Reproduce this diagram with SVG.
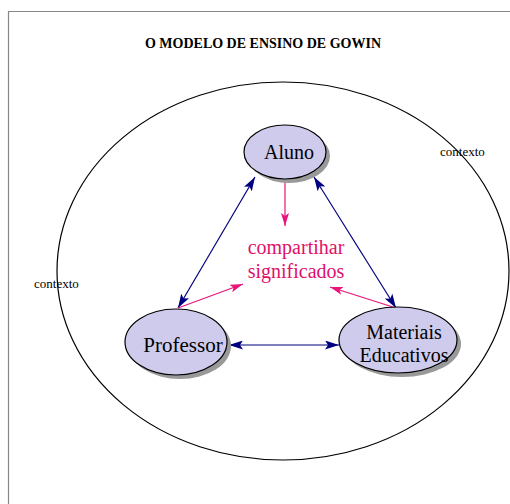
<svg xmlns="http://www.w3.org/2000/svg" width="510" height="504" viewBox="0 0 510 504">
<style>
text{font-family:"Liberation Serif",Tinos,"Times New Roman","Nimbus Roman","DejaVu Serif",serif}
.node{fill:#cfcbec;stroke:#000;stroke-width:1.2}
.shadow{fill:#999}
.lbl{font-size:20px;fill:#000;text-anchor:middle}
.pk{fill:#e0106a}
.ctx{font-size:13px;fill:#000}
.blue{stroke:#000080;stroke-width:1.2;fill:none}
.pink{stroke:#e8157a;stroke-width:1.2;fill:none}
</style>
<defs>
<marker id="ab" viewBox="0 0 14 9" refX="14" refY="4.5" markerWidth="14" markerHeight="9" markerUnits="userSpaceOnUse" orient="auto-start-reverse">
<path d="M0,0 L14,4.5 L0,9 L3,4.5 Z" fill="#000080"/>
</marker>
<marker id="ap" viewBox="0 0 13 8" refX="13" refY="4" markerWidth="13" markerHeight="8" markerUnits="userSpaceOnUse" orient="auto">
<path d="M0,0 L13,4 L0,8 L3,4 Z" fill="#e8157a"/>
</marker>
</defs>
<rect width="510" height="504" fill="#fff"/>
<path d="M8.5,504 V11.5 H510" fill="none" stroke="#888" stroke-width="1.2"/>
<text x="263" y="48" font-size="14" font-weight="bold" text-anchor="middle">O MODELO DE ENSINO DE GOWIN</text>
<ellipse cx="283" cy="271" rx="226" ry="189" fill="none" stroke="#000" stroke-width="1.2"/>
<text class="ctx" x="440" y="156">contexto</text>
<text class="ctx" x="34" y="288">contexto</text>
<g id="connectors">
<line class="blue" x1="255" y1="177" x2="178" y2="308" marker-start="url(#ab)" marker-end="url(#ab)"/>
<line class="blue" x1="314" y1="177" x2="396" y2="308" marker-start="url(#ab)" marker-end="url(#ab)"/>
<line class="blue" x1="229" y1="345" x2="339" y2="345" marker-start="url(#ab)" marker-end="url(#ab)"/>
<line class="pink" x1="285" y1="182" x2="285" y2="226" marker-end="url(#ap)"/>
<line class="pink" x1="178" y1="308" x2="243" y2="284" marker-end="url(#ap)"/>
<line class="pink" x1="396" y1="308" x2="330" y2="287" marker-end="url(#ap)"/>
</g>
<g id="aluno">
<ellipse class="shadow" cx="289" cy="156" rx="41" ry="27"/>
<ellipse class="node" cx="285" cy="152" rx="41" ry="27"/>
<text class="lbl" x="289" y="159">Aluno</text>
</g>
<g id="professor">
<ellipse class="shadow" cx="180" cy="346" rx="51" ry="33"/>
<ellipse class="node" cx="176" cy="342" rx="51" ry="33"/>
<text class="lbl" x="183" y="352" style="font-size:21px">Professor</text>
</g>
<g id="materiais">
<ellipse class="shadow" cx="402" cy="344" rx="59" ry="33"/>
<ellipse class="node" cx="398" cy="340" rx="59" ry="33"/>
<text class="lbl" x="404" y="339">Materiais</text>
<text class="lbl" x="404" y="362">Educativos</text>
</g>
<g id="compartilhar">
<text class="lbl pk" x="296" y="254">compartihar</text>
<text class="lbl pk" x="296" y="278">significados</text>
</g>
</svg>
